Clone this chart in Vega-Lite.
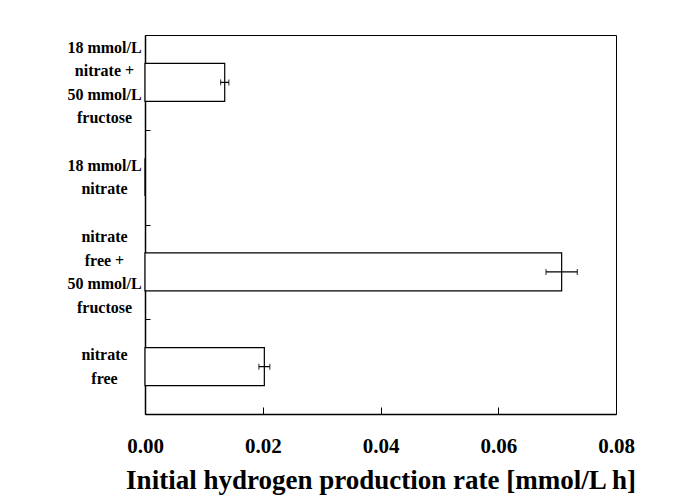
{
  "$schema": "https://vega.github.io/schema/vega-lite/v6.json",
  "autosize": {"type": "none"},
  "width": 471,
  "height": 379,
  "padding": {"left": 145, "top": 35, "right": 61, "bottom": 88},
  "background": "white",
  "config": {
    "view": {"stroke": "black", "strokeWidth": 1},
    "font": "Liberation Serif"
  },
  "data": {
    "values": [
      {"condition": "18 mmol/L nitrate + 50 mmol/L fructose", "rate": 0.01354, "err": 0.0007},
      {"condition": "18 mmol/L nitrate", "rate": 0, "err": 0},
      {"condition": "nitrate free + 50 mmol/L fructose", "rate": 0.07077, "err": 0.00266},
      {"condition": "nitrate free", "rate": 0.02027, "err": 0.00093}
    ]
  },
  "encoding": {
    "y": {
      "field": "condition",
      "type": "nominal",
      "sort": ["18 mmol/L nitrate + 50 mmol/L fructose", "18 mmol/L nitrate", "nitrate free + 50 mmol/L fructose", "nitrate free"],
      "scale": {"paddingInner": 0, "paddingOuter": 0},
      "axis": {
        "title": null,
        "domainColor": "black",
        "domainWidth": 1.5,
        "tickBand": "extent",
        "tickSize": -5,
        "tickColor": "black",
        "labelAlign": "center",
        "labelBaseline": "middle",
        "labelPadding": 46,
        "labelOffset": -35.25,
        "labelFont": "Liberation Serif",
        "labelFontWeight": "bold",
        "labelFontSize": 16,
        "labelColor": "black",
        "labelLineHeight": 23.5,
        "labelExpr": "datum.value == '18 mmol/L nitrate + 50 mmol/L fructose' ? ['18 mmol/L', 'nitrate +', '50 mmol/L', 'fructose'] : datum.value == '18 mmol/L nitrate' ? ['', '18 mmol/L', 'nitrate', ''] : datum.value == 'nitrate free + 50 mmol/L fructose' ? ['nitrate', 'free +', '50 mmol/L', 'fructose'] : datum.value == 'nitrate free' ? ['', 'nitrate', 'free', ''] : ''"
      }
    }
  },
  "layer": [
    {
      "mark": {"type": "bar", "fill": "white", "stroke": "black", "strokeWidth": 1.2, "height": {"band": 0.4}},
      "encoding": {
        "x": {
          "field": "rate",
          "type": "quantitative",
          "scale": {"domain": [0, 0.08], "nice": false},
          "axis": {
            "title": "Initial hydrogen production rate [mmol/L h]",
            "values": [0, 0.02, 0.04, 0.06, 0.08],
            "format": ".2f",
            "grid": false,
            "domainColor": "black",
            "domainWidth": 1.5,
            "tickSize": -7,
            "tickColor": "black",
            "labelFont": "Liberation Serif",
            "labelFontWeight": "bold",
            "labelFontSize": 21,
            "labelColor": "black",
            "labelBaseline": "middle",
            "labelPadding": 39,
            "labelFlush": false,
            "titleFont": "Liberation Serif",
            "titleFontWeight": "bold",
            "titleFontSize": 27,
            "titleColor": "black",
            "titlePadding": 11
          }
        }
      }
    },
    {
      "transform": [
        {"filter": "datum.err > 0"},
        {"calculate": "datum.rate - datum.err", "as": "lo"},
        {"calculate": "datum.rate + datum.err", "as": "hi"}
      ],
      "layer": [
        {
          "mark": {"type": "rule", "color": "black", "strokeWidth": 1.2},
          "encoding": {"x": {"field": "lo", "type": "quantitative"}, "x2": {"field": "hi"}}
        },
        {
          "mark": {"type": "tick", "color": "black", "size": 6, "thickness": 1.2, "orient": "vertical"},
          "encoding": {"x": {"field": "lo", "type": "quantitative"}}
        },
        {
          "mark": {"type": "tick", "color": "black", "size": 6, "thickness": 1.2, "orient": "vertical"},
          "encoding": {"x": {"field": "hi", "type": "quantitative"}}
        }
      ]
    }
  ]
}
